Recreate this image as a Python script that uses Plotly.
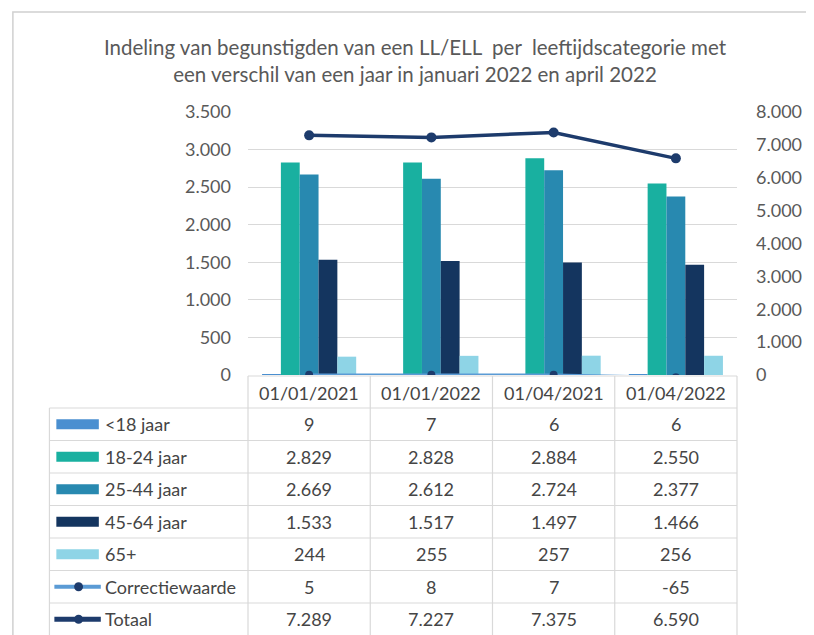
import plotly.graph_objects as go

categories = ["01/01/2021", "01/01/2022", "01/04/2021", "01/04/2022"]
series_names = ["<18 jaar", "18-24 jaar", "25-44 jaar", "45-64 jaar", "65+"]
lt18 = [9, 7, 6, 6]
a18_24 = [2829, 2828, 2884, 2550]
a25_44 = [2669, 2612, 2724, 2377]
a45_64 = [1533, 1517, 1497, 1466]
a65 = [244, 255, 257, 256]
correctie = [5, 8, 7, -65]
totaal = [7289, 7227, 7375, 6590]

bar_values = [lt18, a18_24, a25_44, a45_64, a65]
bar_colors = ["#4a8fd0", "#19b0a0", "#2889b0", "#14355f", "#8ed4e6"]
corr_color = "#5b9bd5"
tot_color = "#1d3b6c"
mark_color = "#1d3b6c"

FONT = "Lato, Carlito, 'Liberation Sans', sans-serif"
TXT = "#454545"
GRID = "#d9d9d9"

# page body adds an 8px offset; work in target (screen) pixels and convert
OFF = 8
W, H = 814 - OFF, 635 - OFF
PX_L, PX_R, PX_T, PX_B = 248, 743, 112, 375  # plot area in screen pixels
L, R, T, B = PX_L - OFF, W - (PX_R - OFF), PX_T - OFF, H - (PX_B - OFF)
PW, PH = PX_R - PX_L, PX_B - PX_T


def xp(px):
    return (px - PX_L) / PW


def yp(py):
    return (PX_B - py) / PH


fig = go.Figure()
for name, vals, col in zip(series_names, bar_values, bar_colors):
    fig.add_trace(go.Bar(x=categories, y=vals, name=name, marker=dict(color=col, line=dict(width=0)),
                         yaxis="y"))

fig.add_trace(go.Scatter(x=categories, y=correctie, name="Correctiewaarde", yaxis="y2", mode="lines+markers",
                         line=dict(color=corr_color, width=2.5), marker=dict(color=mark_color, size=8)))
fig.add_trace(go.Scatter(x=categories, y=totaal, name="Totaal", yaxis="y2", mode="lines+markers",
                         line=dict(color=tot_color, width=3.5), marker=dict(color=mark_color, size=10)))

shapes = []
annotations = []

# outer frame
shapes.append(dict(type="rect", xref="paper", yref="paper", x0=xp(10), x1=xp(830), y0=yp(660), y1=yp(12),
                   line=dict(color="#d0d0d0", width=1.5), layer="below"))

# table geometry (screen pixels)
header_top = 376
row_h = 32.5
first_row = 408
n_rows = 7
bottom = first_row + n_rows * row_h
left_col = 47
col_edges = [248, 371.75, 495.5, 619.25, 743]

shapes.append(dict(type="line", xref="paper", yref="paper", x0=xp(248), x1=xp(743), y0=yp(header_top),
                   y1=yp(header_top), line=dict(color=GRID, width=1.2)))
for i in range(n_rows + 1):
    yy = first_row + i * row_h
    shapes.append(dict(type="line", xref="paper", yref="paper", x0=xp(left_col), x1=xp(743), y0=yp(yy), y1=yp(yy),
                       line=dict(color=GRID, width=1.2)))
shapes.append(dict(type="line", xref="paper", yref="paper", x0=xp(left_col), x1=xp(left_col), y0=yp(first_row),
                   y1=yp(bottom), line=dict(color=GRID, width=1.2)))
for ce in col_edges:
    shapes.append(dict(type="line", xref="paper", yref="paper", x0=xp(ce), x1=xp(ce), y0=yp(header_top),
                       y1=yp(bottom), line=dict(color=GRID, width=1.2)))

for c in categories:
    annotations.append(dict(x=c, xref="x", y=yp(header_top + 16.5), yref="paper", text=c, showarrow=False,
                            font=dict(family=FONT, size=18, color=TXT), xanchor="center", yanchor="middle"))

row_names = series_names + ["Correctiewaarde", "Totaal"]
row_vals = bar_values + [correctie, totaal]


def fmt(v):
    return f"{v:,}".replace(",", ".")


for i, (nm, vals) in enumerate(zip(row_names, row_vals)):
    cy = first_row + i * row_h + row_h / 2
    for c, v in zip(categories, vals):
        annotations.append(dict(x=c, xref="x", y=yp(cy), yref="paper", text=fmt(v), showarrow=False,
                                font=dict(family=FONT, size=18, color=TXT), xanchor="center", yanchor="middle"))
    annotations.append(dict(x=xp(101), xref="paper", y=yp(cy), yref="paper", text=nm, showarrow=False,
                            font=dict(family=FONT, size=18, color=TXT), xanchor="left", yanchor="middle"))
    if i < 5:
        shapes.append(dict(type="rect", xref="paper", yref="paper", x0=xp(54), x1=xp(97), y0=yp(cy - 5),
                           y1=yp(cy + 5), fillcolor=bar_colors[i], line=dict(width=0)))
    else:
        lc = corr_color if nm == "Correctiewaarde" else tot_color
        lw = 4 if nm == "Correctiewaarde" else 5
        shapes.append(dict(type="line", xref="paper", yref="paper", x0=xp(52), x1=xp(99), y0=yp(cy), y1=yp(cy),
                           line=dict(color=lc, width=lw)))
        shapes.append(dict(type="circle", xref="paper", yref="paper", x0=xp(72), x1=xp(81), y0=yp(cy + 4.5),
                           y1=yp(cy - 4.5), fillcolor=mark_color, line=dict(width=0)))

fig.update_layout(
    width=W, height=H,
    margin=dict(l=L, r=R, t=T, b=B),
    paper_bgcolor="white", plot_bgcolor="white",
    separators=",.",
    barmode="group", bargap=0.23, bargroupgap=0,
    showlegend=False,
    title=dict(text="Indeling van begunstigden van een LL/ELL  per  leeftijdscategorie met<br>een verschil van een jaar in januari 2022 en april 2022",
               x=(415 - OFF) / W, xanchor="center", xref="container", y=1 - (55 - OFF) / H, yanchor="middle",
               yref="container", font=dict(family=FONT, size=20.5, color="#595959")),
    xaxis=dict(type="category", showticklabels=False, showgrid=False, zeroline=False, showline=False,
               ticks="", range=[-0.5, 3.5]),
    yaxis=dict(range=[0, 3500], dtick=500, tickformat=",d", showgrid=True, gridcolor=GRID, gridwidth=1.2,
               zeroline=False, showline=False, ticks="", ticklabelstandoff=16,
               tickfont=dict(family=FONT, size=18, color="#595959")),
    yaxis2=dict(range=[0, 8000], dtick=1000, tickformat=",d", overlaying="y", side="right", showgrid=False,
                zeroline=False, showline=False, ticks="", ticklabelstandoff=18,
                tickfont=dict(family=FONT, size=18, color="#595959")),
    shapes=shapes,
    annotations=annotations,
)

fig.write_html("out.html")
